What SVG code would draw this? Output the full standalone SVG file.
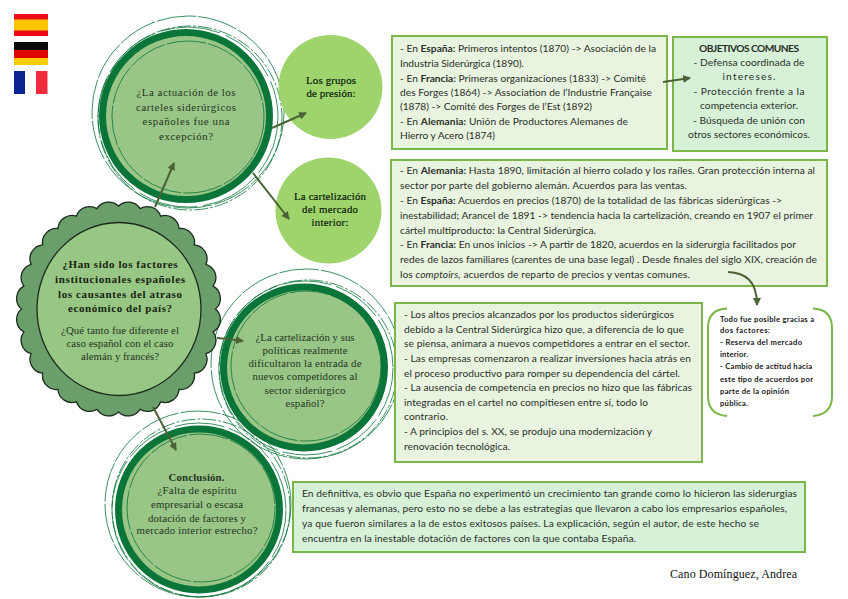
<svg xmlns="http://www.w3.org/2000/svg" width="848" height="599" viewBox="0 0 848 599">
<style>
.b{fill:#e8f3e0;stroke:#7ab648;stroke-width:2}
.b2{fill:#d7f1d9;stroke:#7ab648;stroke-width:2}
.t{font-family:Lato,"Open Sans",sans-serif;font-size:10.2px;fill:#2a2f28}
.bd{font-weight:700}
.c{text-anchor:middle}
.s{font-family:"Liberation Serif",serif;font-size:10.8px;fill:#25351f;text-anchor:middle}
.k{fill:#0d1a0a;font-size:10.8px;stroke:#0d1a0a;stroke-width:.2}
.h{font-weight:700;font-size:11px;fill:#16240f}
.m{font-family:Lato,sans-serif;font-size:7.6px;font-weight:700;fill:#161616}
.disc{fill:#99c586;stroke:#0a7539;stroke-width:7}
.thin{fill:none;stroke:#0a7539;stroke-width:.8}
.d1{stroke-dasharray:40 2}
.d2{stroke-dasharray:14 2 3 2}
.light{fill:#9fd46d}
.a{fill:none;stroke:#4b6237;stroke-width:2;marker-end:url(#ah)}
</style>
<defs>
<marker id="ah" markerWidth="4" markerHeight="4" refX="3.500" refY="2" orient="auto" markerUnits="strokeWidth"><path d="M0 0L4 2L0 4z" fill="#4b6237"/></marker>
</defs>
<rect width="848" height="599" fill="#fff"/>
<g id="flags">
<rect x="14" y="14" width="34" height="22" fill="#ec0a1c"/><rect x="14" y="19.500" width="34" height="11" fill="#ffc400"/>
<rect x="14" y="42" width="34" height="8" fill="#0a0a0a"/><rect x="14" y="50" width="34" height="8" fill="#e10000"/><rect x="14" y="58" width="34" height="7" fill="#ffcc00"/>
<rect x="14" y="71" width="11" height="23" fill="#0a2390"/><rect x="36" y="71" width="11.500" height="23" fill="#f02a3c"/>
</g>
<g id="node-actuacion">
<circle class="thin d1" cx="188" cy="112" r="96"/><circle class="thin d2" cx="190" cy="118" r="92"/><circle class="thin" cx="188" cy="117" r="90" stroke-dasharray="60 6"/>
<circle class="disc" cx="186" cy="116" r="83.500"/><circle class="thin d1" cx="188" cy="117" r="76"/>
<text class="s" x="186" y="96" textLength="99">¿La actuación de los</text>
<text class="s" x="186" y="111" textLength="100">carteles siderúrgicos</text>
<text class="s" x="186" y="125" textLength="87">españoles fue una</text>
<text class="s" x="186" y="140" textLength="54">excepción?</text>
</g>
<g id="node-grupos"><circle class="light" cx="330.500" cy="87" r="52"/>
<text class="s k" x="331" y="84" textLength="50">Los grupos</text><text class="s k" x="331" y="97" textLength="49">de presión:</text></g>
<g id="node-cartelizacion"><circle class="light" cx="328.500" cy="210.500" r="53"/>
<text class="s k" x="330" y="200" textLength="72">La cartelización</text><text class="s k" x="330" y="213" textLength="56">del mercado</text><text class="s k" x="330" y="226" textLength="37">interior:</text></g>
<g id="node-politicas">
<circle class="thin d1" cx="306" cy="364" r="95"/><circle class="thin d2" cx="308" cy="369" r="89"/><circle class="thin" cx="306" cy="368" r="87" stroke-dasharray="50 5"/>
<circle class="disc" cx="304" cy="367.500" r="80.500"/><circle class="thin d1" cx="306" cy="366" r="75"/>
<text class="s" x="305" y="341" textLength="99">¿La cartelización y sus</text>
<text class="s" x="305" y="354.300" textLength="85">políticas realmente</text>
<text class="s" x="305" y="367.300" textLength="113">dificultaron la entrada de</text>
<text class="s" x="305" y="380.300" textLength="105">nuevos competidores al</text>
<text class="s" x="305" y="393.700" textLength="81">sector siderúrgico</text>
<text class="s" x="305" y="407.300" textLength="39">español?</text>
</g>
<g id="node-conclusion">
<circle class="thin d1" cx="198" cy="504" r="93"/><circle class="thin d2" cx="201" cy="508" r="89"/><circle class="thin" cx="199" cy="510" r="87" stroke-dasharray="50 5"/>
<circle class="disc" cx="199" cy="509.500" r="80.500"/><circle class="thin d1" cx="201" cy="508" r="74"/>
<text class="s bd" x="196.500" y="481" textLength="56">Conclusión.</text>
<text class="s" x="197" y="494.300" textLength="79">¿Falta de espíritu</text>
<text class="s" x="197" y="508.300" textLength="92">empresarial o escasa</text>
<text class="s" x="197" y="521.700" textLength="98">dotación de factores y</text>
<text class="s" x="197" y="534.300" textLength="121">mercado interior estrecho?</text>
</g>
<g id="node-factores">
<path fill="#6a9f6b" stroke="#1c2b1c" stroke-width="1.300" d="M215.500 309A14 14 0 0 1 213.100 331.900A14 14 0 0 1 205.900 353.700A14 14 0 0 1 194.300 373.200A14 14 0 0 1 179 389.500A14 14 0 0 1 160.600 401.800A14 14 0 0 1 140.100 409.400A14 14 0 0 1 118.500 412A14 14 0 0 1 96.900 409.400A14 14 0 0 1 76.400 401.800A14 14 0 0 1 58 389.500A14 14 0 0 1 42.700 373.200A14 14 0 0 1 31.100 353.700A14 14 0 0 1 23.900 331.900A14 14 0 0 1 21.500 309A14 14 0 0 1 23.900 286.100A14 14 0 0 1 31.100 264.300A14 14 0 0 1 42.700 244.800A14 14 0 0 1 58 228.500A14 14 0 0 1 76.400 216.200A14 14 0 0 1 96.900 208.600A14 14 0 0 1 118.500 206A14 14 0 0 1 140.100 208.600A14 14 0 0 1 160.600 216.200A14 14 0 0 1 179 228.500A14 14 0 0 1 194.300 244.800A14 14 0 0 1 205.900 264.300A14 14 0 0 1 213.100 286.100A14 14 0 0 1 215.500 309Z"/>
<ellipse cx="119" cy="309" rx="82" ry="86.500" fill="#98c684" stroke="#1c2b1c" stroke-width="1.300"/>
<text class="s h" x="120" y="267.700" textLength="115">¿Han sido los factores</text>
<text class="s h" x="120" y="283" textLength="130">institucionales españoles</text>
<text class="s h" x="120" y="297.700" textLength="124">los causantes del atraso</text>
<text class="s h" x="120" y="312" textLength="104">económico del país?</text>
<text class="s" x="120" y="334.300" textLength="118">¿Qué tanto fue diferente el</text>
<text class="s" x="120" y="347.300" textLength="107">caso español con el caso</text>
<text class="s" x="120" y="360.300" textLength="78">alemán y francés?</text>
</g>
<g id="box-grupos"><rect class="b" x="392" y="36" width="275" height="113"/>
<text class="t" x="400" y="52" textLength="256">- En <tspan class="bd">España:</tspan> Primeros intentos (1870) -&gt; Asociación de la</text>
<text class="t" x="400" y="66.700" textLength="124">Industria Siderúrgica (1890).</text>
<text class="t" x="400" y="81.500" textLength="246">- En <tspan class="bd">Francia:</tspan> Primeras organizaciones (1833) -&gt; Comité</text>
<text class="t" x="400" y="95.700" textLength="252">des Forges (1864) -&gt; Association de l’Industrie Française</text>
<text class="t" x="400" y="110" textLength="192">(1878) -&gt; Comité des Forges de l’Est (1892)</text>
<text class="t" x="400" y="125" textLength="228">- En <tspan class="bd">Alemania:</tspan> Unión de Productores Alemanes de</text>
<text class="t" x="400" y="139" textLength="95">Hierro y Acero (1874)</text>
</g>
<g id="box-objetivos"><rect class="b2" x="673" y="37" width="154" height="114"/>
<text class="t c bd" x="749" y="52" textLength="100">OBJETIVOS COMUNES</text>
<text class="t c" x="749" y="66" textLength="111">- Defensa coordinada de</text>
<text class="t c" x="749" y="80" textLength="53">intereses.</text>
<text class="t c" x="749" y="95" textLength="111">- Protección frente a la</text>
<text class="t c" x="749" y="109" textLength="98">competencia exterior.</text>
<text class="t c" x="749" y="124" textLength="112">- Búsqueda de unión con</text>
<text class="t c" x="749" y="138" textLength="122">otros sectores económicos.</text>
</g>
<g id="box-cartel"><rect class="b" x="391" y="160" width="436" height="126"/>
<text class="t" x="400" y="174.300" textLength="415">- En <tspan class="bd">Alemania:</tspan> Hasta 1890, limitación al hierro colado y los raíles. Gran protección interna al</text>
<text class="t" x="400" y="189.300" textLength="287">sector por parte del gobierno alemán. Acuerdos para las ventas.</text>
<text class="t" x="400" y="204" textLength="382">- En <tspan class="bd">España:</tspan> Acuerdos en precios (1870) de la totalidad de las fábricas siderúrgicas -&gt;</text>
<text class="t" x="400" y="219" textLength="413">inestabilidad; Arancel de 1891 -&gt; tendencia hacia la cartelización, creando en 1907 el primer</text>
<text class="t" x="400" y="233.700" textLength="196">cártel multiproducto: la Central Siderúrgica.</text>
<text class="t" x="400" y="248.300" textLength="396">- En <tspan class="bd">Francia:</tspan> En unos inicios -&gt; A partir de 1820, acuerdos en la siderurgia facilitados por</text>
<text class="t" x="400" y="263.300" textLength="417">redes de lazos familiares (carentes de una base legal) . Desde finales del siglo XIX, creación de</text>
<text class="t" x="400" y="278" textLength="290">los <tspan font-style="italic">comptoirs,</tspan> acuerdos de reparto de precios y ventas comunes.</text>
</g>
<g id="box-politicas"><rect class="b" x="395" y="303" width="307" height="159"/>
<text class="t" x="404" y="318" textLength="270">- Los altos precios alcanzados por los productos siderúrgicos</text>
<text class="t" x="404" y="332.700" textLength="280">debido a la Central Siderúrgica hizo que, a diferencia de lo que</text>
<text class="t" x="404" y="347.300" textLength="286">se piensa, animara a nuevos competidores a entrar en el sector.</text>
<text class="t" x="404" y="362" textLength="287">- Las empresas comenzaron a realizar inversiones hacia atrás en</text>
<text class="t" x="404" y="376.700" textLength="276">el proceso productivo para romper su dependencia del cártel.</text>
<text class="t" x="404" y="391.300" textLength="288">- La ausencia de competencia en precios no hizo que las fábricas</text>
<text class="t" x="404" y="405.700" textLength="244">integradas en el cartel no compitiesen entre sí, todo lo</text>
<text class="t" x="404" y="420.300" textLength="44">contrario.</text>
<text class="t" x="404" y="435" textLength="248">- A principios del s. XX, se produjo una modernización y</text>
<text class="t" x="404" y="449.700" textLength="106">renovación tecnológica.</text>
</g>
<g id="box-conclusion"><rect class="b2" x="293" y="482" width="512" height="70"/>
<text class="t" x="302" y="497" textLength="495">En definitiva, es obvio que España no experimentó un crecimiento tan grande como lo hicieron las siderurgias</text>
<text class="t" x="302" y="512" textLength="485">francesas y alemanas, pero esto no se debe a las estrategias que llevaron a cabo los empresarios españoles,</text>
<text class="t" x="302" y="526.500" textLength="457">ya que fueron similares a la de estos exitosos países. La explicación, según el autor, de este hecho se</text>
<text class="t" x="302" y="541.500" textLength="334">encuentra en la inestable dotación de factores con la que contaba España.</text>
</g>
<g id="node-posible">
<path d="M727 308.500C714 309 708 316 708 328V396C708 408 714 415 727 416M813 308.500C826 309 832 316 832 328V396C832 408 826 415 813 416" fill="none" stroke="#7ab648" stroke-width="2"/>
<text class="m" x="720" y="322" textLength="94">Todo fue posible gracias a</text>
<text class="m" x="720" y="333.300" textLength="50">dos factores:</text>
<text class="m" x="720" y="345.300" textLength="82">- Reserva del mercado</text>
<text class="m" x="720" y="357.300" textLength="28">interior.</text>
<text class="m" x="720" y="369.300" textLength="92">- Cambio de actitud hacia</text>
<text class="m" x="720" y="381.700" textLength="93">este tipo de acuerdos por</text>
<text class="m" x="720" y="393.700" textLength="69">parte de la opinión</text>
<text class="m" x="720" y="405.700" textLength="28">pública.</text>
</g>
<text id="author" x="670" y="578" font-family="Liberation Serif,serif" font-size="12" fill="#111" textLength="127">Cano Domínguez, Andrea</text>
<g id="connectors">
<path class="a" d="M155 207L174 163"/>
<path class="a" d="M272 128L306 113"/>
<path class="a" d="M253 173L289 219"/>
<path class="a" d="M217 338Q230 339 243 341"/>
<path class="a" d="M153 407L176 450"/>
<path class="a" d="M663 82L690 78"/>
<path class="a" d="M728 272C745 273 757 280 757 305"/>
</g>
</svg>
